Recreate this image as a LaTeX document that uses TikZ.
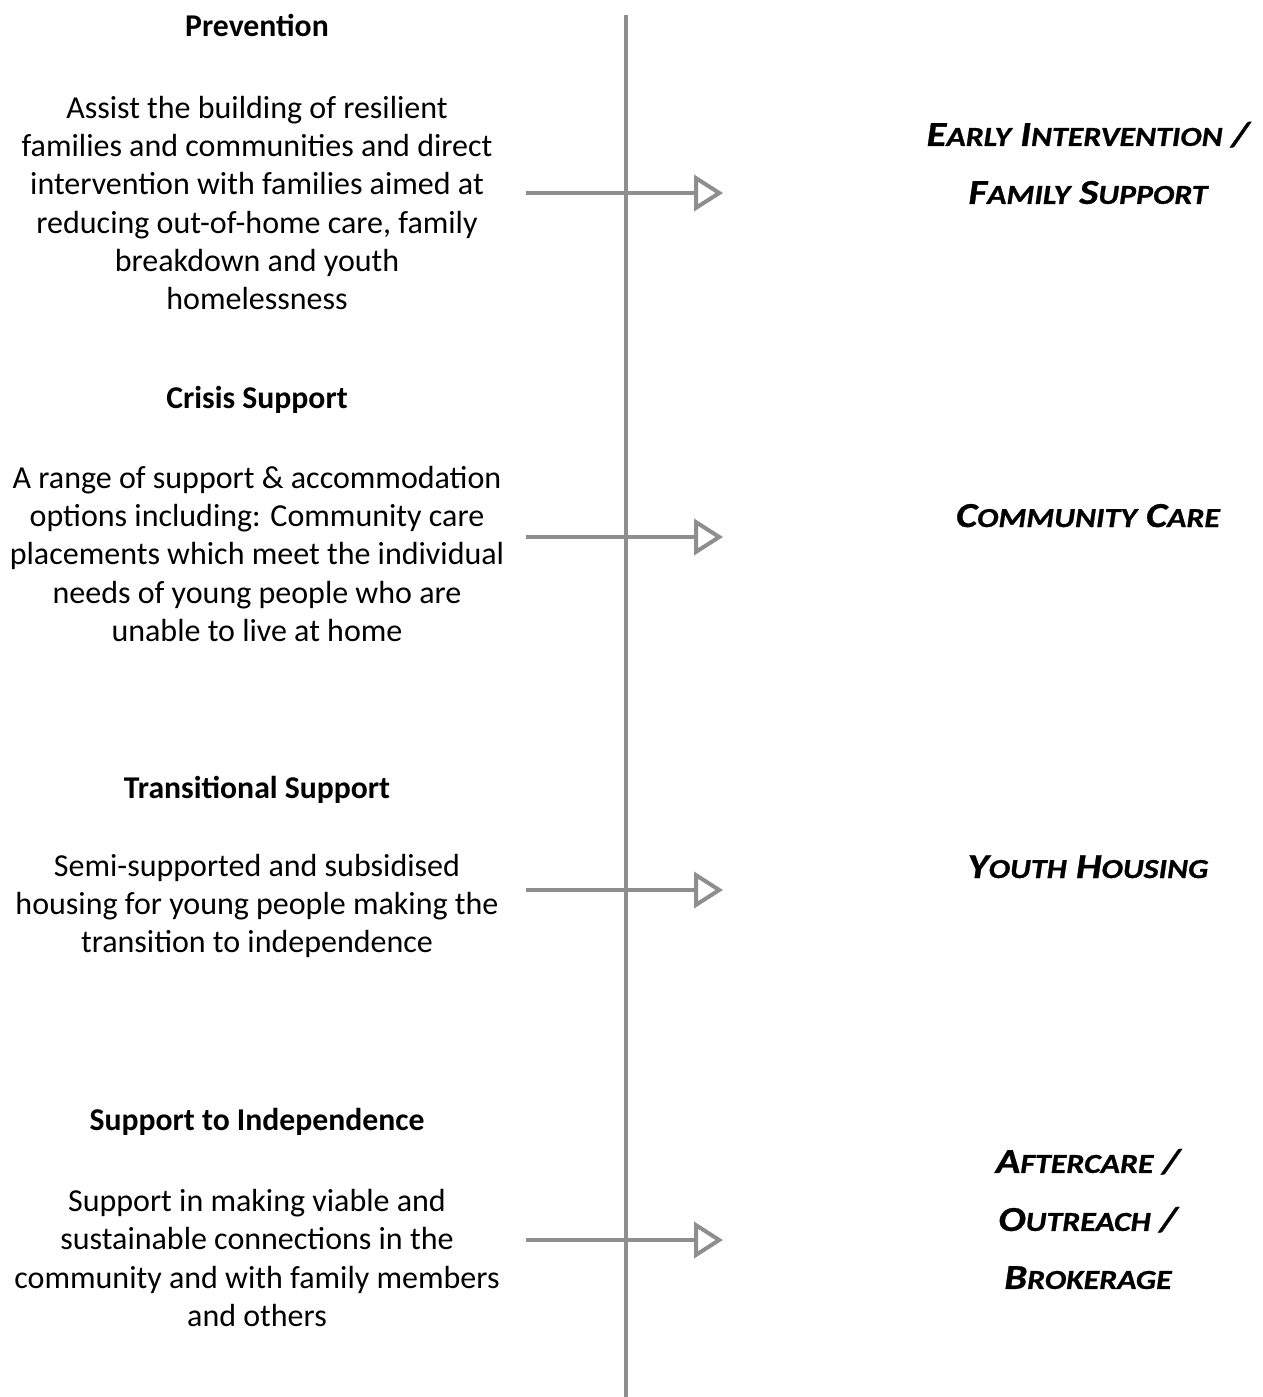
\documentclass[tikz,border=0pt]{standalone}
\usepackage{fontspec}
\setmainfont{Carlito}
\newfontfamily\tagfont[FakeStretch=1.16, BoldItalicFeatures={FakeBold=0.8}]{Carlito}
\usetikzlibrary{arrows.meta}
\definecolor{linegray}{HTML}{8E8E8E}
\newcommand\SCx[2]{#1{\fontsize{27.5}{58}\selectfont #2}}
\tikzset{
  body/.style={align=center, inner sep=0pt, font=\fontsize{32}{38.3}\selectfont},
  head/.style={anchor=base, inner sep=0pt, font=\fontsize{31.7}{38.3}\selectfont\bfseries},
  tag/.style={align=center, inner sep=0pt, font=\tagfont\fontsize{35}{58}\selectfont\bfseries\itshape},
  axis/.style={draw=linegray, line width=4pt},
  flow/.style={draw=linegray, line width=4pt, -{Triangle[open, length=29pt, width=36pt]}}
}
\begin{document}
\begin{tikzpicture}[x=1pt,y=-1pt]
\useasboundingbox (0,0) rectangle (1262,1397);
% axis
\coordinate (top) at (626,15);
\coordinate (bot) at (626,1397);
\draw[axis] (top) -- (bot);
% left column
\node[head] (h1) at (257,37) {Prevention};
\node[body] (p1) at (257,203) {Assist the building of resilient\\families and communities and direct\\intervention with families aimed at\\reducing out-of-home care, family\\breakdown and youth\\homelessness};
\node[head] (h2) at (257,408) {Crisis Support};
\node[body] (p2) at (257,554) {A range of support \& accommodation\\options including: Community care\\placements which meet the individual\\needs of young people who are\\unable to live at home};
\node[head] (h3) at (257,798) {Transitional Support};
\node[body] (p3) at (257,906) {Semi-supported and subsidised\\housing for young people making the\\transition to independence};
\node[head] (h4) at (257,1130) {Support to Independence};
\node[body] (p4) at (257,1258) {Support in making viable and\\sustainable connections in the\\community and with family members\\and others};
% right column
\node[tag] (t1) at (1088,163) {\SCx{E}{ARLY} \SCx{I}{NTERVENTION} /\\\SCx{F}{AMILY} \SCx{S}{UPPORT}};
\node[tag, anchor=base] (t2) at (1088,527) {\SCx{C}{OMMUNITY} \SCx{C}{ARE}};
\node[tag, anchor=base] (t3) at (1088,878) {\SCx{Y}{OUTH} \SCx{H}{OUSING}};
\node[tag] (t4) at (1088,1219) {\SCx{A}{FTERCARE} /\\\SCx{O}{UTREACH} /\\\SCx{B}{ROKERAGE}};
% arrows
\coordinate (s1) at (526,193); \coordinate (e1) at (723,193);
\coordinate (s2) at (526,537); \coordinate (e2) at (723,537);
\coordinate (s3) at (526,890); \coordinate (e3) at (723,890);
\coordinate (s4) at (526,1240); \coordinate (e4) at (723,1240);
\draw[flow] (s1) -- (e1);
\draw[flow] (s2) -- (e2);
\draw[flow] (s3) -- (e3);
\draw[flow] (s4) -- (e4);
\end{tikzpicture}
\end{document}
